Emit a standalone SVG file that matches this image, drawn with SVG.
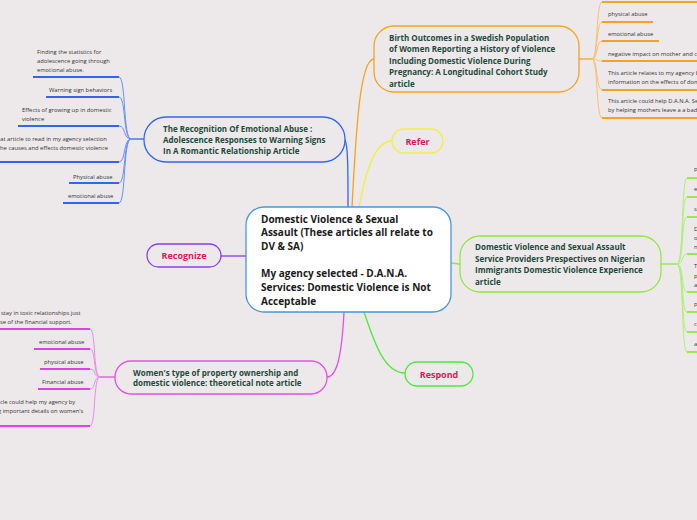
<svg xmlns="http://www.w3.org/2000/svg" width="697" height="520" viewBox="0 0 697 520">
<style>
.title{font-family:"Open Sans","Noto Sans",sans-serif;font-weight:bold;font-size:8px;fill:#1d4a3b}
.main{font-family:"Open Sans","Noto Sans",sans-serif;font-weight:bold;font-size:10px;fill:#1a1a1a}
.lbl{font-family:"Open Sans","Noto Sans",sans-serif;font-weight:bold;font-size:9px;fill:#e3185b;text-anchor:middle}
.leaf{font-family:"Open Sans","Noto Sans",sans-serif;font-size:5.8px;fill:#333}
.c{fill:none;stroke-width:1.3}
.u{fill:none;stroke-width:1.8}
.br{fill:none;stroke-width:1}
</style>
<rect width="697" height="520" fill="#ede9ea"/>
<g id="connectors">
  <path class="c" stroke="#2f66f2" d="M348 207 C 348 170, 348 145, 345 140"/>
  <path class="c" stroke="#f5a21f" d="M352 207 C 356 130, 360 59, 374 59"/>
  <path class="c" stroke="#eef23a" d="M359 207 C 366 170, 375 141, 392 141"/>
  <path class="c" stroke="#8a3cef" d="M246 256 L 221 256"/>
  <path class="c" stroke="#8fe93c" d="M451 263 C 455 263, 456 264, 460 264"/>
  <path class="c" stroke="#e64fea" d="M344 312 C 342 350, 338 377, 327 377"/>
  <path class="c" stroke="#4cea3a" d="M364 312 C 375 345, 385 373, 405 373"/>
  <path class="c" stroke="#2f66f2" d="M144 139 L 131 139"/>
  <g stroke="#6a8ff5" class="br">
    <path d="M131 139 C 123 139, 126 77, 119 77"/>
    <path d="M131 139 C 123 139, 126 97, 119 97"/>
    <path d="M131 139 C 123 139, 126 126, 119 126"/>
    <path d="M131 139 C 123 139, 126 162, 119 162"/>
    <path d="M131 139 C 123 139, 126 183, 119 183"/>
    <path d="M131 139 C 123 139, 126 203, 119 203"/>
  </g>
  <g stroke="#2f66f2" class="u">
    <path d="M33 77 H119"/>
    <path d="M46 97 H119"/>
    <path d="M18 126 H119"/>
    <path d="M0 162 H119"/>
    <path d="M69 183 H119"/>
    <path d="M63 203 H119"/>
  </g>
  <path class="c" stroke="#f5a21f" d="M579 59 L 592 59"/>
  <g stroke="#f8c070" class="br">
    <path d="M592 59 C 598 59, 596 2, 602 2"/>
    <path d="M592 59 C 598 59, 596 22, 602 22"/>
    <path d="M592 59 C 598 59, 596 41, 602 41"/>
    <path d="M592 59 C 598 59, 596 61, 602 61"/>
    <path d="M592 59 C 598 59, 596 90, 602 90"/>
    <path d="M592 59 C 598 59, 596 118, 602 118"/>
  </g>
  <g stroke="#f5a21f" class="u">
    <path d="M602 2 H697"/>
    <path d="M602 22 H653"/>
    <path d="M602 41 H659"/>
    <path d="M602 61 H697"/>
    <path d="M602 90 H697"/>
    <path d="M602 118 H697"/>
  </g>
  <path class="c" stroke="#8fe93c" d="M661 264 L 677 264"/>
  <g stroke="#aef07a" class="br">
    <path d="M677 264 C 684 264, 681 178, 687 178"/>
    <path d="M677 264 C 684 264, 681 197, 687 197"/>
    <path d="M677 264 C 684 264, 681 217, 687 217"/>
    <path d="M677 264 C 684 264, 681 254, 687 254"/>
    <path d="M677 264 C 684 264, 681 292, 687 292"/>
    <path d="M677 264 C 684 264, 681 312, 687 312"/>
    <path d="M677 264 C 684 264, 681 332, 687 332"/>
    <path d="M677 264 C 684 264, 681 352, 687 352"/>
  </g>
  <g stroke="#8fe93c" class="u">
    <path d="M687 178 H697"/>
    <path d="M687 197 H697"/>
    <path d="M687 217 H697"/>
    <path d="M687 254 H697"/>
    <path d="M687 292 H697"/>
    <path d="M687 312 H697"/>
    <path d="M687 332 H697"/>
    <path d="M687 352 H697"/>
  </g>
  <path class="c" stroke="#e64fea" d="M115 377 L 100 377"/>
  <g stroke="#ee88f0" class="br">
    <path d="M100 377 C 93 377, 96 329, 90 329"/>
    <path d="M100 377 C 93 377, 96 349, 90 349"/>
    <path d="M100 377 C 93 377, 96 369, 90 369"/>
    <path d="M100 377 C 93 377, 96 389, 90 389"/>
    <path d="M100 377 C 93 377, 96 426, 90 426"/>
  </g>
  <g stroke="#e040e8" class="u">
    <path d="M0 329 H90"/>
    <path d="M34 349 H90"/>
    <path d="M40 369 H90"/>
    <path d="M38 389 H90"/>
    <path d="M0 426 H90"/>
  </g>
</g>
<g id="center">
  <rect x="246" y="207" width="205" height="105" rx="18" fill="#fff" stroke="#4a98d6" stroke-width="1.3"/>
  <text class="main"><tspan x="261" y="222.5">Domestic Violence &amp; Sexual</tspan><tspan x="261" y="236.2">Assault (These articles all relate to</tspan><tspan x="261" y="249.9">DV &amp; SA)</tspan><tspan x="261" y="277.3">My agency selected - D.A.N.A.</tspan><tspan x="261" y="291">Services: Domestic Violence is Not</tspan><tspan x="261" y="304.7">Acceptable</tspan></text>
</g>
<g id="node-recognition">
  <rect x="144" y="117" width="201" height="45" rx="22" fill="none" stroke="#2f66f2" stroke-width="1.3"/>
  <text class="title"><tspan x="163" y="132">The Recognition Of Emotional Abuse :</tspan><tspan x="163" y="143">Adolescence Responses to Warning Signs</tspan><tspan x="163" y="154">In A Romantic Relationship Article</tspan></text>
</g>
<g id="node-birth">
  <rect x="374" y="26" width="205" height="66" rx="20" fill="none" stroke="#f5a21f" stroke-width="1.3"/>
  <text class="title"><tspan x="389" y="40.5">Birth Outcomes in a Swedish Population</tspan><tspan x="389" y="52">of Women Reporting a History of Violence</tspan><tspan x="389" y="63.5">Including Domestic Violence During</tspan><tspan x="389" y="75">Pregnancy: A Longitudinal Cohort Study</tspan><tspan x="389" y="86.5">article</tspan></text>
</g>
<g id="node-refer">
  <rect x="392" y="129" width="51" height="24" rx="12" fill="none" stroke="#eef23a" stroke-width="1.3"/>
  <text class="lbl" x="417.5" y="144.5">Refer</text>
</g>
<g id="node-recognize">
  <rect x="147" y="244" width="74" height="23" rx="11.5" fill="none" stroke="#8a3cef" stroke-width="1.3"/>
  <text class="lbl" x="184" y="259">Recognize</text>
</g>
<g id="node-nigerian">
  <rect x="460" y="236" width="201" height="56" rx="20" fill="none" stroke="#8fe93c" stroke-width="1.3"/>
  <text class="title"><tspan x="475" y="250">Domestic Violence and Sexual Assault</tspan><tspan x="475" y="261.5">Service Providers Prespectives on Nigerian</tspan><tspan x="475" y="273">Immigrants Domestic Violence Experience</tspan><tspan x="475" y="284.5">article</tspan></text>
</g>
<g id="node-property">
  <rect x="115" y="361" width="212" height="33" rx="16" fill="none" stroke="#e64fea" stroke-width="1.3"/>
  <text class="title"><tspan x="133" y="375.5">Women's type of property ownership and</tspan><tspan x="133" y="385.5">domestic violence: theoretical note article</tspan></text>
</g>
<g id="node-respond">
  <rect x="405" y="362" width="68" height="24" rx="12" fill="none" stroke="#4cea3a" stroke-width="1.3"/>
  <text class="lbl" x="439" y="377.5">Respond</text>
</g>
<g id="leaves-blue">
  <text class="leaf"><tspan x="37" y="54">Finding the statistics for</tspan><tspan x="37" y="63">adolescence going through</tspan><tspan x="37" y="72">emotional abuse.</tspan></text>
  <text class="leaf" x="49" y="92">Warning sign behaviors</text>
  <text class="leaf"><tspan x="22" y="112">Effects of growing up in domestic</tspan><tspan x="22" y="121">violence</tspan></text>
  <text class="leaf"><tspan x="-3" y="141">eat article to read in my agency selection</tspan><tspan x="-2" y="149.5">the causes and effects domestic violence</tspan></text>
  <text class="leaf" x="73" y="179">Physical abuse</text>
  <text class="leaf" x="68" y="198">emotional abuse</text>
</g>
<g id="leaves-orange">
  <text class="leaf" x="608" y="16">physical abuse</text>
  <text class="leaf" x="608" y="36">emotional abuse</text>
  <text class="leaf" x="608" y="56">negative impact on mother and child</text>
  <text class="leaf"><tspan x="608" y="75">This article relates to my agency by</tspan><tspan x="608" y="84">information on the effects of domestic</tspan></text>
  <text class="leaf"><tspan x="608" y="103">This article could help D.A.N.A. Services</tspan><tspan x="608" y="112">by helping mothers leave a a bad</tspan></text>
</g>
<g id="leaves-green">
  <text class="leaf" x="694" y="171">p</text>
  <text class="leaf" x="694" y="191">e</text>
  <text class="leaf" x="694" y="211">s</text>
  <text class="leaf"><tspan x="694" y="231">D</tspan><tspan x="694" y="240">o</tspan><tspan x="694" y="249">n</tspan></text>
  <text class="leaf"><tspan x="694" y="268">T</tspan><tspan x="694" y="278">p</tspan><tspan x="694" y="287">a</tspan></text>
  <text class="leaf" x="694" y="306">p</text>
  <text class="leaf" x="694" y="326">c</text>
  <text class="leaf" x="694" y="346">a</text>
</g>
<g id="leaves-magenta">
  <text class="leaf"><tspan x="1" y="315">stay in toxic relationships just</tspan><tspan x="0" y="324">se of the financial support.</tspan></text>
  <text class="leaf" x="39" y="344">emotional abuse</text>
  <text class="leaf" x="44" y="364">physical abuse</text>
  <text class="leaf" x="42" y="384">Financial abuse</text>
  <text class="leaf"><tspan x="0" y="404">cle could help my agency by</tspan><tspan x="-2" y="413">g important details on women's</tspan></text>
</g>
</svg>
